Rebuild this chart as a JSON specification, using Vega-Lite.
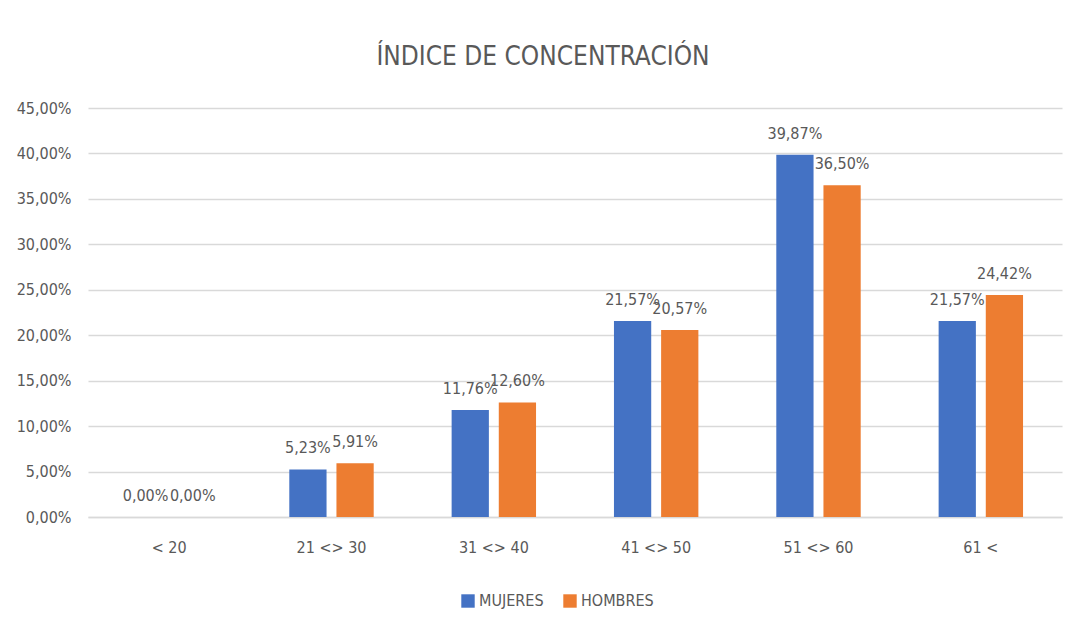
{
  "$schema": "https://vega.github.io/schema/vega-lite/v6.json",
  "width": 974,
  "height": 409,
  "autosize": {"type": "none"},
  "padding": {"left": 88, "top": 108, "right": 10, "bottom": 120},
  "background": "white",
  "title": {
    "text": "ÍNDICE DE CONCENTRACIÓN",
    "anchor": "middle",
    "dx": -32,
    "offset": 30,
    "fontSize": 26,
    "fontWeight": "normal",
    "color": "#595959",
    "font": "DejaVu Sans Condensed, sans-serif"
  },
  "config": {
    "locale": {"number": {"decimal": ",", "thousands": ".", "grouping": [3], "currency": ["", " €"]}},
    "font": "DejaVu Sans Condensed, sans-serif",
    "view": {"stroke": null}
  },
  "data": {
    "values": [
      {"rango": "< 20", "sexo": "MUJERES", "valor": 0.0},
      {"rango": "< 20", "sexo": "HOMBRES", "valor": 0.0},
      {"rango": "21 <> 30", "sexo": "MUJERES", "valor": 0.0523},
      {"rango": "21 <> 30", "sexo": "HOMBRES", "valor": 0.0591},
      {"rango": "31 <> 40", "sexo": "MUJERES", "valor": 0.1176},
      {"rango": "31 <> 40", "sexo": "HOMBRES", "valor": 0.126},
      {"rango": "41 <> 50", "sexo": "MUJERES", "valor": 0.2157},
      {"rango": "41 <> 50", "sexo": "HOMBRES", "valor": 0.2057},
      {"rango": "51 <> 60", "sexo": "MUJERES", "valor": 0.3987},
      {"rango": "51 <> 60", "sexo": "HOMBRES", "valor": 0.365},
      {"rango": "61 <", "sexo": "MUJERES", "valor": 0.2157},
      {"rango": "61 <", "sexo": "HOMBRES", "valor": 0.2442}
    ]
  },
  "encoding": {
    "x": {
      "field": "rango",
      "type": "nominal",
      "sort": null,
      "scale": {"paddingInner": 0.48, "paddingOuter": 0.24},
      "axis": {
        "title": null,
        "labelAngle": 0,
        "labelFontSize": 16,
        "labelColor": "#595959",
        "labelPadding": 22,
        "ticks": false,
        "domainColor": "#d9d9d9",
        "domainWidth": 1.5
      }
    },
    "xOffset": {
      "field": "sexo",
      "type": "nominal",
      "sort": ["MUJERES", "HOMBRES"],
      "scale": {"paddingInner": 0.21, "paddingOuter": 0}
    },
    "y": {
      "field": "valor",
      "type": "quantitative",
      "scale": {"domain": [0, 0.45], "nice": false},
      "axis": {
        "title": null,
        "format": ".2%",
        "values": [0, 0.05, 0.1, 0.15, 0.2, 0.25, 0.3, 0.35, 0.4, 0.45],
        "labelFontSize": 16,
        "labelColor": "#595959",
        "labelPadding": 17,
        "ticks": false,
        "domain": false,
        "gridColor": "#d9d9d9",
        "gridWidth": 1.5
      }
    }
  },
  "layer": [
    {
      "mark": {"type": "bar"},
      "encoding": {
        "color": {
          "field": "sexo",
          "type": "nominal",
          "sort": ["MUJERES", "HOMBRES"],
          "scale": {"domain": ["MUJERES", "HOMBRES"], "range": ["#4472C4", "#ED7D31"]},
          "legend": {
            "title": null,
            "orient": "none",
            "direction": "horizontal",
            "legendX": 372,
            "legendY": 485,
            "symbolType": "square",
            "symbolSize": 180,
            "symbolStrokeWidth": 0,
            "labelFontSize": 16,
            "labelColor": "#595959",
            "labelOffset": 3,
            "columnPadding": 18
          }
        }
      }
    },
    {
      "mark": {"type": "text", "baseline": "bottom", "dy": -13, "fontSize": 16, "color": "#595959"},
      "encoding": {
        "text": {"field": "valor", "type": "quantitative", "format": ".2%"}
      }
    }
  ]
}
